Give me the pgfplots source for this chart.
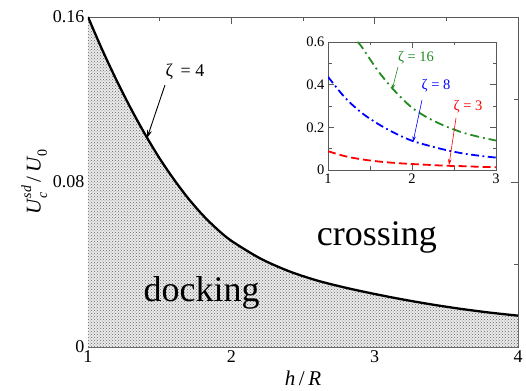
\documentclass[border=0pt]{standalone}
\usepackage{fontspec}
\setmainfont{Liberation Serif}
\usepackage{pgfplots}
\usepackage{pgfplotstable}
\pgfplotsset{compat=1.18}
\usetikzlibrary{arrows.meta,calc,patterns}
\definecolor{zgreen}{RGB}{34,139,34}
\definecolor{zblue}{RGB}{0,0,255}
\definecolor{zred}{RGB}{255,0,0}

\pgfplotstableread{
x y
1.0 0.1600
1.1 0.1440
1.2 0.1292
1.3 0.1155
1.4 0.1029
1.5 0.0914
1.6 0.0812
1.7 0.0720
1.8 0.0640
1.9 0.0572
2.0 0.0515
2.2 0.0430
2.4 0.0368
2.6 0.0322
2.8 0.0287
3.0 0.0257
3.2 0.0230
3.4 0.0206
3.6 0.0185
3.8 0.0167
4.0 0.0152
}\maincurve

\pgfplotstableread{
x y
1.0 0.088
1.2 0.065
1.4 0.050
1.6 0.040
1.8 0.033
2.0 0.028
2.2 0.024
2.4 0.020
2.6 0.018
2.8 0.015
3.0 0.013
}\zthree

\pgfplotstableread{
x y
1.0 0.437
1.2 0.340
1.4 0.268
1.6 0.215
1.8 0.172
2.0 0.137
2.2 0.114
2.4 0.094
2.6 0.078
2.8 0.067
3.0 0.058
}\zeight

\pgfplotstableread{
x y
1.35 0.600
1.40 0.578
1.60 0.462
1.80 0.368
2.00 0.292
2.20 0.242
2.40 0.205
2.60 0.176
2.80 0.155
3.00 0.138
}\zsixteen

\begin{document}
\begin{tikzpicture}
\begin{axis}[name=main, width=430pt, height=330pt, scale only axis,
  xmin=1, xmax=4, ymin=0, ymax=0.16,
  xtick={1,2,3,4}, xticklabels={1,2,3,4},
  ytick={0,0.08,0.16}, yticklabels={0,0.08,0.16},
  minor x tick num=1, minor y tick num=1,
  tick align=inside, major tick length=7pt, minor tick length=4pt,
  axis line style={black!65, line width=0.8pt},
  every tick/.style={black!65, line width=0.8pt},
  tick label style={font=\fontsize{18}{18}\selectfont},
  /pgf/number format/assume math mode=true,
  xlabel={\textit{h}\,/\,\textit{R}},
  ylabel={\textit{U}\makebox[0pt][l]{\raisebox{-0.3em}{\fontsize{14}{14}\selectfont\itshape c}}\raisebox{0.45em}{\fontsize{14}{14}\selectfont\itshape sd}\,/\,\textit{U}\raisebox{-0.3em}{\fontsize{14}{14}\selectfont 0}},
  label style={font=\fontsize{21}{21}\selectfont},
  xlabel style={at={(axis description cs:0.5,-0.118)}, anchor=base},
  ylabel style={at={(axis description cs:-0.125,0.5)}, anchor=center},
]
\addplot[draw=none, fill=black!8, smooth] table[x=x,y=y]{\maincurve} \closedcycle;
\addplot[draw=none, pattern=crosshatch dots, pattern color=black!60, smooth] table[x=x,y=y]{\maincurve} \closedcycle;
\addplot[black, line width=2.3pt, smooth] table[x=x,y=y]{\maincurve};
\node[anchor=base west, inner sep=0pt, font=\fontsize{36}{36}\selectfont] at (axis cs:1.386,0.02196) {docking};
\node[anchor=base west, inner sep=0pt, font=\fontsize{36}{36}\selectfont] at (axis cs:2.596,0.04945) {crossing};
\node[font=\fontsize{18}{18}\selectfont] at (axis cs:1.677,0.1333) {ζ\ \,= 4};
\draw[black, line width=0.9pt, -{Stealth[length=8pt,width=5pt]}] (axis cs:1.537,0.127) -- (axis cs:1.412,0.1013);
\end{axis}

\begin{axis}[at={($(main.south west)+(240pt,177pt)$)}, anchor=south west,
  width=168pt, height=128pt, scale only axis,
  axis background/.style={fill=white},
  xmin=1, xmax=3, ymin=0, ymax=0.6,
  xtick={1,2,3}, xticklabels={1,2,3},
  ytick={0,0.2,0.4,0.6}, yticklabels={0,0.2,0.4,0.6},
  minor x tick num=1, minor y tick num=1,
  tick align=inside, major tick length=6pt, minor tick length=3.5pt,
  axis line style={black!65, line width=0.8pt},
  every tick/.style={black!65, line width=0.8pt},
  tick label style={font=\fontsize{14.5}{14.5}\selectfont},
  /pgf/number format/assume math mode=true,
]
\addplot[zred, line width=1.8pt, smooth, dash pattern=on 8pt off 4pt] table[x=x,y=y]{\zthree};
\addplot[zblue, line width=1.8pt, smooth, dash pattern=on 8pt off 3.5pt on 1.8pt off 3.5pt] table[x=x,y=y]{\zeight};
\addplot[zgreen, line width=1.8pt, smooth, dash pattern=on 9pt off 4pt on 1.8pt off 4pt] table[x=x,y=y]{\zsixteen};
\node[zgreen, font=\fontsize{14.5}{14.5}\selectfont] at (axis cs:2.048,0.525) {ζ = 16};
\draw[zgreen, line width=0.6pt, -{Stealth[length=6pt,width=3.5pt]}] (axis cs:1.833,0.483) -- (axis cs:1.762,0.375);
\node[zblue, font=\fontsize{14.5}{14.5}\selectfont] at (axis cs:2.286,0.394) {ζ = 8};
\draw[zblue, line width=0.6pt, -{Stealth[length=6pt,width=3.5pt]}] (axis cs:2.119,0.328) -- (axis cs:2.012,0.131);
\node[zred, font=\fontsize{14.5}{14.5}\selectfont] at (axis cs:2.667,0.295) {ζ = 3};
\draw[zred, line width=0.6pt, -{Stealth[length=6pt,width=3.5pt]}] (axis cs:2.524,0.244) -- (axis cs:2.44,0.023);
\end{axis}

\pgfresetboundingbox
\path (main.south west) ++(-88pt,-43pt) rectangle ++(526pt,390pt);
\end{tikzpicture}
\end{document}
